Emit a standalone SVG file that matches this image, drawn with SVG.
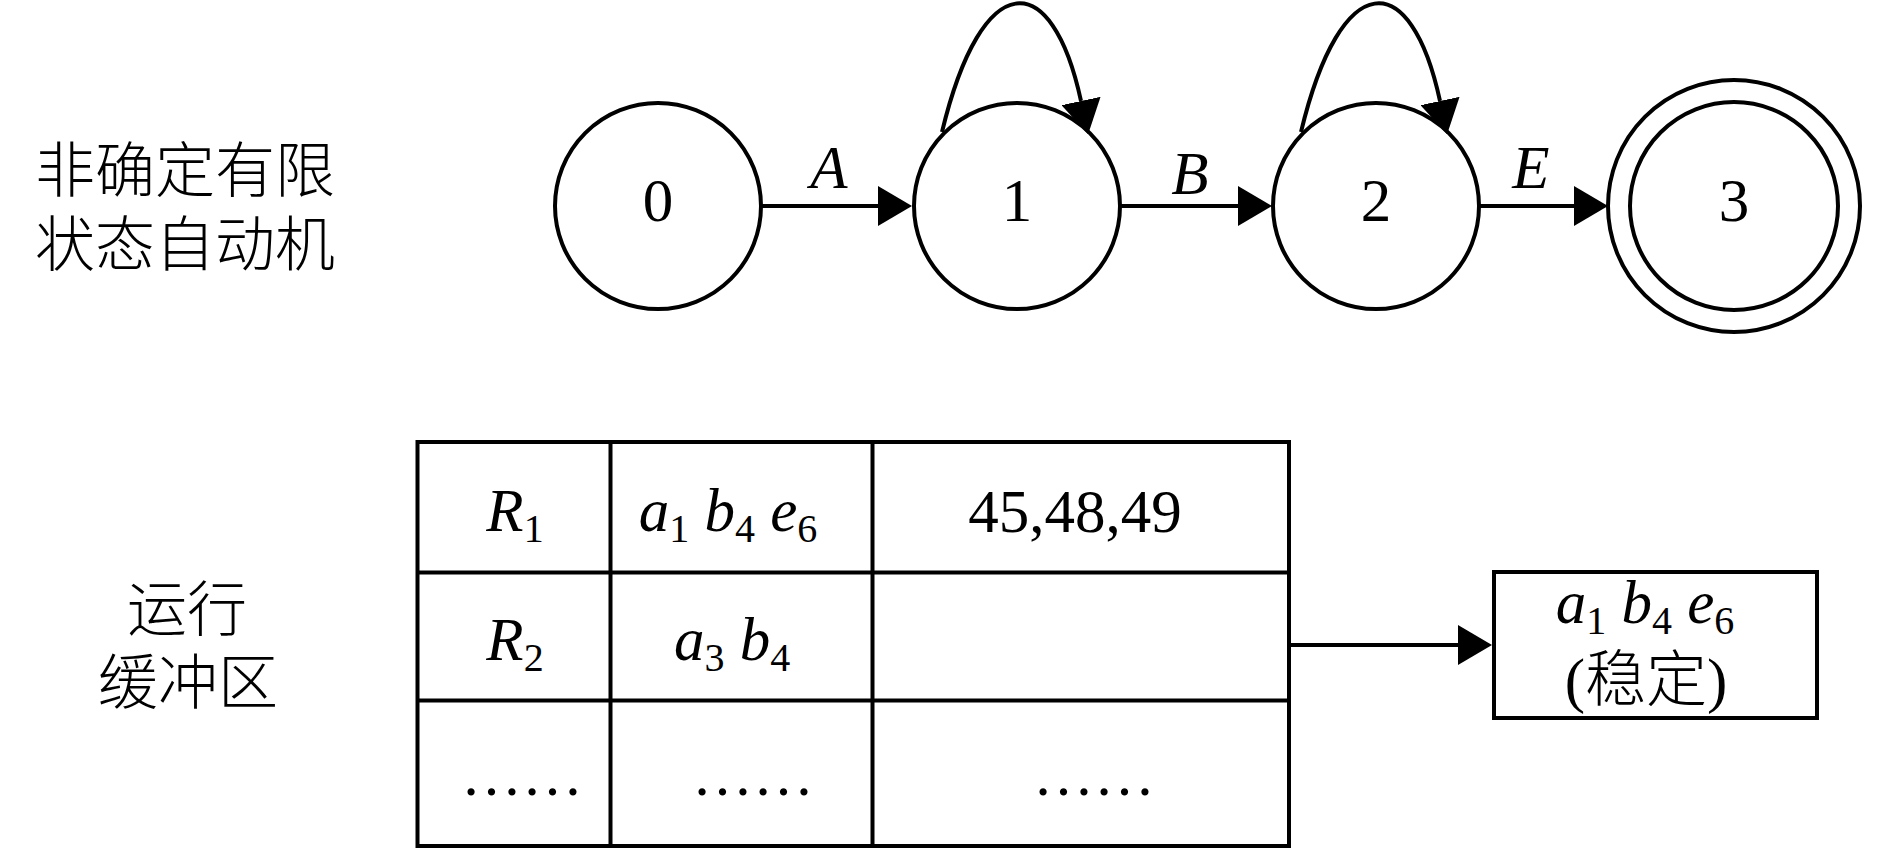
<svg xmlns="http://www.w3.org/2000/svg" width="1890" height="850" viewBox="0 0 1890 850">
<style>
.t { font-family: "Liberation Serif", serif; fill: #000; font-size: 61px; }
.tc { font-family: "Liberation Serif", "Noto Sans CJK SC", serif; fill: #000; font-size: 61px; font-weight: 300; }
.lc { font-size: 60px; }
.i { font-style: italic; }
.m { text-anchor: middle; }
.s { stroke: #000; stroke-width: 4; fill: none; }
.sub { font-style: normal; font-size: 40px; }
</style>
<defs>
<marker id="ah" markerUnits="userSpaceOnUse" markerWidth="34" markerHeight="40" viewBox="0 0 34 40" refX="0" refY="20" orient="auto">
<path d="M0,0 L34,20 L0,40 Z" fill="#000"/>
</marker>
</defs>
<rect width="1890" height="850" fill="#fff"/>

<g id="label-nfa">
<text class="tc lc m" x="185" y="192">非确定有限<tspan x="185" y="266">状态自动机</tspan></text>
</g>
<g id="label-buffer">
<text class="tc lc m" x="187" y="631">运行<tspan x="188" y="704">缓冲区</tspan></text>
</g>

<g id="state0">
<circle class="s" cx="658" cy="206" r="103"/>
<text class="t m" x="658" y="221">0</text>
</g>
<g id="state1">
<circle class="s" cx="1017" cy="206" r="103"/>
<text class="t m" x="1017" y="221">1</text>
</g>
<g id="state2">
<circle class="s" cx="1376" cy="206" r="103"/>
<text class="t m" x="1376" y="221">2</text>
</g>
<g id="state3">
<circle class="s" cx="1734" cy="206" r="126"/>
<circle class="s" cx="1734" cy="206" r="104"/>
<text class="t m" x="1734" y="221">3</text>
</g>

<g id="buffer-table">
<rect class="s" x="417.5" y="442" width="871.5" height="404"/>
<line class="s" x1="610.5" y1="442" x2="610.5" y2="846"/>
<line class="s" x1="872.5" y1="442" x2="872.5" y2="846"/>
<line class="s" x1="417.5" y1="572.5" x2="1289" y2="572.5"/>
<line class="s" x1="417.5" y1="700.5" x2="1289" y2="700.5"/>
<text class="t i m" x="515" y="531">R<tspan class="sub" dy="11">1</tspan></text>
<text class="t i m" x="728" y="531">a<tspan class="sub" dy="11">1</tspan><tspan dy="-11"> b</tspan><tspan class="sub" dy="11">4</tspan><tspan dy="-11"> e</tspan><tspan class="sub" dy="11">6</tspan></text>
<text class="t m" x="1075" y="532">45,48,49</text>
<text class="t i m" x="515" y="660">R<tspan class="sub" dy="11">2</tspan></text>
<text class="t i m" x="732" y="660">a<tspan class="sub" dy="11">3</tspan><tspan dy="-11"> b</tspan><tspan class="sub" dy="11">4</tspan></text>
<text class="t m" x="522" y="795">……</text>
<text class="t m" x="753" y="795">……</text>
<text class="t m" x="1094" y="795">……</text>
</g>

<g id="stable-box">
<rect class="s" x="1494" y="572" width="323" height="146"/>
<text class="t i m" x="1645" y="623">a<tspan class="sub" dy="11">1</tspan><tspan dy="-11"> b</tspan><tspan class="sub" dy="11">4</tspan><tspan dy="-11"> e</tspan><tspan class="sub" dy="11">6</tspan></text>
<text class="tc m" x="1646" y="701">(稳定)</text>
</g>

<g id="connectors">
<line class="s" x1="761" y1="206" x2="878" y2="206" marker-end="url(#ah)"/>
<line class="s" x1="1120" y1="206" x2="1238" y2="206" marker-end="url(#ah)"/>
<line class="s" x1="1479" y1="206" x2="1574" y2="206" marker-end="url(#ah)"/>
<path class="s" d="M942,132 C982,-34 1052,-34 1081,101" marker-end="url(#ah)"/>
<path class="s" d="M1301,132 C1341,-34 1411,-34 1440,101" marker-end="url(#ah)"/>
<line class="s" x1="1289" y1="645" x2="1458" y2="645" marker-end="url(#ah)"/>
<text class="t i m" x="829" y="188">A</text>
<text class="t i m" x="1190" y="194">B</text>
<text class="t i m" x="1531" y="188">E</text>
</g>
</svg>
